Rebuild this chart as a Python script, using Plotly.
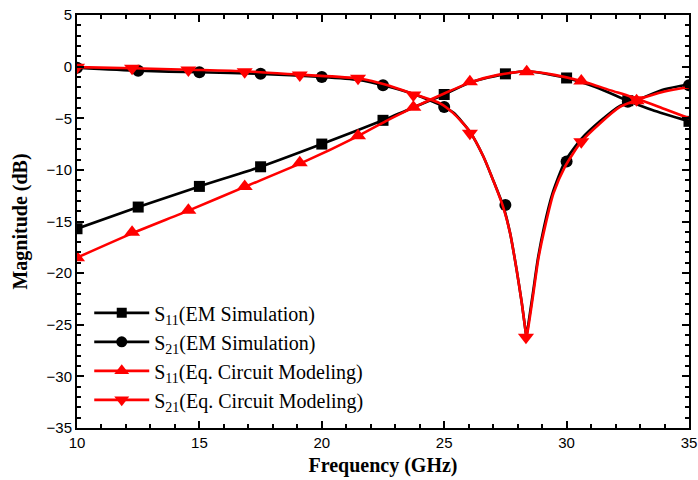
import plotly.graph_objects as go

# ---- S11 EM simulation (black, squares)
s11_em_line_x = [10, 12.5, 15, 17.5, 20, 22.5, 23.8, 25, 26.1, 27.5, 28.4, 30, 31.2, 32.5, 33.5, 35]
s11_em_line_y = [-15.7, -13.6, -11.6, -9.7, -7.5, -5.2, -3.9, -2.7, -1.5, -0.7, -0.45, -1.1, -2.0, -3.3, -4.2, -5.3]
s11_em_mk_x = [10, 12.5, 15, 17.5, 20, 22.5, 25, 27.5, 30, 32.5, 35]
s11_em_mk_y = [-15.7, -13.6, -11.6, -9.7, -7.5, -5.2, -2.7, -0.7, -1.1, -3.3, -5.3]

# ---- S21 EM simulation (black, circles)
s21_em_line_x = [10, 12.5, 15, 17.5, 20, 21.5, 22.5, 23.8, 25, 25.4, 26.05, 26.6, 27.0, 27.41, 27.69, 27.96, 28.17, 28.3, 28.36,
                 28.42, 28.62, 28.82, 29.08, 29.42, 29.93, 30.6, 31.36, 32.18, 32.9, 34, 35]
s21_em_line_y = [-0.1, -0.4, -0.55, -0.7, -1.0, -1.3, -1.8, -2.7, -3.9, -4.5, -6.3, -8.7, -11.0, -13.5, -16.1, -19.7, -22.9, -25.2, -26.2,
                 -25.2, -22.0, -18.7, -15.5, -12.3, -9.2, -7.0, -5.3, -3.8, -3.2, -2.2, -1.7]
s21_em_mk_x = [10, 12.5, 15, 17.5, 20, 22.5, 25, 27.5, 30, 32.5, 35]
s21_em_mk_y = [-0.1, -0.4, -0.55, -0.7, -1.0, -1.8, -3.9, -13.4, -9.2, -3.4, -1.8]

# ---- S11 equivalent circuit (red, up triangles)
s11_eq_line_x = [10, 12.3, 14.6, 16.9, 19.2, 21.5, 22.6, 23.8, 25, 26.1, 27.2, 28.4, 29.5, 30.6, 31.8, 33.0, 34, 35]
s11_eq_line_y = [-18.5, -16.1, -13.9, -11.6, -9.3, -6.7, -5.3, -3.9, -2.6, -1.5, -0.8, -0.45, -0.8, -1.4, -2.3, -3.2, -4.1, -5.0]
s11_eq_mk_x = [10, 12.25, 14.55, 16.85, 19.1, 21.48, 23.74, 26.05, 28.37, 30.6, 32.86]
s11_eq_mk_y = [-18.5, -16.05, -13.9, -11.6, -9.3, -6.7, -3.94, -1.46, -0.49, -1.39, -3.3]

# ---- S21 equivalent circuit (red, down triangles)
s21_eq_line_x = [10, 12.3, 14.6, 16.9, 19.2, 21.5, 22.7, 23.8, 24.83, 25.37, 26.05, 26.6, 27.0, 27.41, 27.69, 27.96, 28.17, 28.3, 28.36,
                 28.44, 28.64, 28.84, 29.12, 29.46, 29.93, 30.6, 31.36, 32.18, 32.9, 34, 35]
s21_eq_line_y = [-0.05, -0.16, -0.3, -0.45, -0.8, -1.15, -1.8, -2.7, -3.55, -4.5, -6.3, -8.7, -11.0, -13.6, -16.1, -19.7, -22.9, -25.2, -26.2,
                 -25.2, -22.0, -18.7, -15.5, -12.3, -9.7, -7.27, -5.5, -3.9, -3.2, -2.4, -2.0]
s21_eq_mk_x = [10, 12.25, 14.55, 16.85, 19.1, 21.48, 23.74, 26.05, 28.34, 30.6, 32.86]
s21_eq_mk_y = [-0.05, -0.16, -0.33, -0.49, -0.81, -1.13, -2.75, -6.45, -26.2, -7.27, -3.2]

legend_names = ["S<sub>11</sub>(EM Simulation)", "S<sub>21</sub>(EM Simulation)",
                "S<sub>11</sub>(Eq. Circuit Modeling)", "S<sub>21</sub>(Eq. Circuit Modeling)"]

BLACK = "#000000"
RED = "#ff0000"
SERIF = "Liberation Serif"
SANS = "Liberation Sans"

series = [
    (s11_em_line_x, s11_em_line_y, s11_em_mk_x, s11_em_mk_y, BLACK, "square", 11),
    (s21_em_line_x, s21_em_line_y, s21_em_mk_x, s21_em_mk_y, BLACK, "circle", 12),
    (s11_eq_line_x, s11_eq_line_y, s11_eq_mk_x, s11_eq_mk_y, RED, "triangle-up", 14),
    (s21_eq_line_x, s21_eq_line_y, s21_eq_mk_x, s21_eq_mk_y, RED, "triangle-down", 14),
]

fig = go.Figure()
for lx, ly, mx, my, col, sym, sz in series:
    fig.add_trace(go.Scatter(x=lx, y=ly, mode="lines", line=dict(color=col, width=2.6, shape="spline", smoothing=0.6),
                             showlegend=False, hoverinfo="skip"))
    fig.add_trace(go.Scatter(x=mx, y=my, mode="markers", marker=dict(color=col, symbol=sym, size=sz, line=dict(width=0)),
                             showlegend=False))

for name, (lx, ly, mx, my, col, sym, sz) in zip(legend_names, series):
    fig.add_trace(go.Scatter(x=[None], y=[None], mode="lines+markers", name=name,
                             line=dict(color=col, width=2.6), marker=dict(color=col, symbol=sym, size=sz - 1)))

axis_common = dict(
    showline=True, linecolor="black", linewidth=2, mirror="allticks",
    ticks="inside", ticklen=7, tickwidth=1.5, tickcolor="black",
    showgrid=False, zeroline=False,
    tickfont=dict(family=SANS, size=15, color="black"),
)

fig.update_xaxes(range=[10, 35], dtick=5, tick0=10,
                 minor=dict(dtick=1, ticks="inside", ticklen=4, tickwidth=1.5, tickcolor="black", showgrid=False),
                 title=dict(text="<b>Frequency (GHz)</b>", font=dict(family=SERIF, size=20, color="black"), standoff=8),
                 **axis_common)
fig.update_yaxes(range=[-35, 5], dtick=5, tick0=0,
                 minor=dict(dtick=1, ticks="inside", ticklen=4, tickwidth=1.5, tickcolor="black", showgrid=False),
                 title=dict(text="<b>Magnitude (dB)</b>", font=dict(family=SERIF, size=20, color="black"), standoff=14),
                 **axis_common)

fig.update_layout(
    width=698, height=480,
    margin=dict(l=77, r=9, t=15, b=52, autoexpand=False),
    plot_bgcolor="white", paper_bgcolor="white",
    legend=dict(x=0.02, y=0.326, xanchor="left", yanchor="top", bgcolor="rgba(0,0,0,0)",
                font=dict(family=SERIF, size=20, color="black"),
                tracegroupgap=0, itemwidth=55),
)

fig.write_html("out.html")
